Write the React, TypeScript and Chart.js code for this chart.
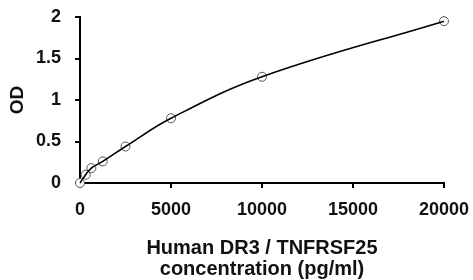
import React, { useEffect, useRef } from "react";
import { Chart, registerables } from "chart.js";

Chart.register(...registerables);

const concentrations = [0, 312.5, 625, 1250, 2500, 5000, 10000, 20000];
const odValues = [0, 0.1, 0.18, 0.26, 0.44, 0.78, 1.28, 1.95];
const xTicks = [0, 5000, 10000, 15000, 20000];
const yTicks = [0, 0.5, 1, 1.5, 2];
const xTitle = ["Human DR3 / TNFRSF25", "concentration (pg/ml)"];
const yTitle = "OD";

export default function App() {
  const ref = useRef<HTMLCanvasElement | null>(null);
  useEffect(() => {
    if (!ref.current) return;
    const pts = concentrations.map((x, i) => ({ x, y: odValues[i] }));
    const tickFont = { family: "'Liberation Sans', Arial, sans-serif", size: 18, weight: "bold" as const };
    const chart = new Chart(ref.current, {
      type: "scatter",
      data: {
        datasets: [
          {
            data: pts,
            showLine: true,
            borderColor: "#000",
            borderWidth: 1.6,
            pointRadius: 0,
            tension: 0.4,
            order: 0,
            clip: false as any,
          },
          {
            data: pts,
            showLine: false,
            pointRadius: 4.5,
            pointBackgroundColor: "#fff",
            pointBorderColor: "#555",
            pointBorderWidth: 1,
            order: 1,
            clip: false as any,
          },
        ],
      },
      options: {
        animation: false,
        responsive: false,
        maintainAspectRatio: false,
        layout: { padding: { top: 17, right: 29, left: 0, bottom: 0 } },
        plugins: { legend: { display: false }, tooltip: { enabled: false } },
        scales: {
          x: {
            type: "linear",
            min: 0,
            max: 20000,
            afterFit: (s: any) => {
              s.height = 97;
              s.paddingLeft = 0;
              s.paddingRight = 0;
            },
            afterBuildTicks: (s: any) => {
              s.ticks = xTicks.map((v) => ({ value: v }));
            },
            ticks: {
              color: "#111",
              font: tickFont,
              padding: 11,
              maxRotation: 0,
              callback: (v: any) => String(v),
            },
            grid: {
              drawOnChartArea: false,
              drawTicks: true,
              tickLength: 5,
              color: "#000",
              lineWidth: 2,
            },
            border: { display: true, color: "#000", width: 2 },
            title: {
              display: true,
              text: xTitle,
              color: "#111",
              font: { family: "'Liberation Sans', Arial, sans-serif", size: 20, weight: "bold", lineHeight: "21px" as any },
              padding: { top: 0, bottom: 0 },
            },
          },
          y: {
            type: "linear",
            min: 0,
            max: 2,
            afterFit: (s: any) => {
              s.width = 80;
              s.paddingTop = 0;
              s.paddingBottom = 0;
            },
            afterBuildTicks: (s: any) => {
              s.ticks = yTicks.map((v) => ({ value: v }));
            },
            ticks: {
              color: "#111",
              font: tickFont,
              padding: 14,
              callback: (v: any) => String(v),
            },
            grid: {
              drawOnChartArea: false,
              drawTicks: true,
              tickLength: 5,
              color: "#000",
              lineWidth: 2,
            },
            border: { display: true, color: "#000", width: 2 },
            title: {
              display: true,
              text: yTitle,
              color: "#111",
              font: { family: "'Liberation Sans', Arial, sans-serif", size: 19, weight: "bold", lineHeight: "22px" as any },
              padding: { top: 7, bottom: 0 },
            },
          },
        },
      },
    });
    return () => chart.destroy();
  }, []);
  return (
    <div style={{ position: "fixed", left: 0, top: 0, width: 473, height: 280, background: "#fff" }}>
      <canvas ref={ref} width={473} height={280} style={{ width: 473, height: 280 }} />
    </div>
  );
}
